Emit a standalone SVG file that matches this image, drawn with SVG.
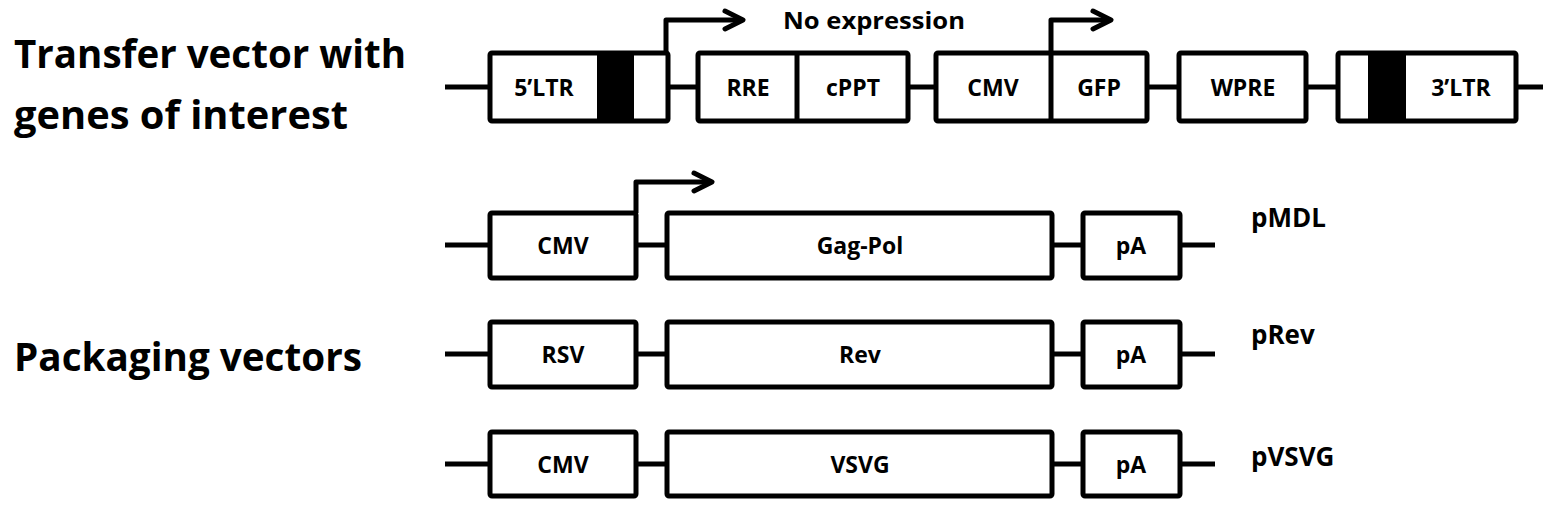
<svg xmlns="http://www.w3.org/2000/svg" width="1543" height="518" viewBox="0 0 1543 518">
<style>
.box{fill:#fff;stroke:#000;stroke-width:5;stroke-linejoin:round}
.ln{fill:none;stroke:#000;stroke-width:5;stroke-linejoin:round;stroke-linecap:butt}
.arr{fill:none;stroke:#000;stroke-width:5;stroke-linejoin:round;stroke-linecap:round}
.blk{fill:#000}
text{font-family:"Open Sans","Liberation Sans",sans-serif;font-weight:bold;fill:#000}
.big{font-size:39px}
.lab{font-size:23px;text-anchor:middle}
.name{font-size:26px}
.note{font-size:24px}
</style>
<g id="titles">
<text class="big" x="14" y="68" textLength="392" lengthAdjust="spacingAndGlyphs">Transfer vector with</text>
<text class="big" x="14" y="129" textLength="334" lengthAdjust="spacingAndGlyphs">genes of interest</text>
<text class="big" x="14" y="371" textLength="348" lengthAdjust="spacingAndGlyphs">Packaging vectors</text>
<text class="note" x="783" y="29" textLength="182" lengthAdjust="spacingAndGlyphs">No expression</text>
<text class="name" x="1251" y="227">pMDL</text>
<text class="name" x="1251" y="344">pRev</text>
<text class="name" x="1251" y="466">pVSVG</text>
</g>
<g id="connectors">
<path class="ln" d="M445 87H490M668 87H698M908 87H936M1147 87H1179M1306 87H1338M1516 87H1543"/>
<path class="ln" d="M445 245H490M636 245H667M1052 245H1083M1180 245H1215"/>
<path class="ln" d="M445 354H490M636 354H667M1052 354H1083M1180 354H1215"/>
<path class="ln" d="M445 464H490M636 464H667M1052 464H1083M1180 464H1215"/>
<path class="ln" d="M666 53V20H743"/><polyline class="arr" points="725,11 743,20 725,29"/>
<path class="ln" d="M1051 53V20H1111"/><polyline class="arr" points="1093,11 1111,20 1093,29"/>
<path class="ln" d="M636 213V182H712"/><polyline class="arr" points="694,173 712,182 694,191"/>
</g>
<g id="ltr5">
<rect class="box" x="490" y="53" width="178" height="68" rx="2"/>
<rect class="blk" x="597" y="53" width="37" height="68"/>
<text class="lab" x="544" y="96">5’LTR</text>
</g>
<g id="rre-cppt">
<rect class="box" x="698" y="53" width="210" height="68" rx="2"/>
<path class="ln" d="M797 53V121"/>
<text class="lab" x="748" y="96">RRE</text>
<text class="lab" x="853" y="96">cPPT</text>
</g>
<g id="cmv-gfp">
<rect class="box" x="936" y="53" width="211" height="68" rx="2"/>
<path class="ln" d="M1051 53V121"/>
<text class="lab" x="993" y="96">CMV</text>
<text class="lab" x="1099" y="96">GFP</text>
</g>
<g id="wpre">
<rect class="box" x="1179" y="53" width="127" height="68" rx="2"/>
<text class="lab" x="1243" y="96">WPRE</text>
</g>
<g id="ltr3">
<rect class="box" x="1338" y="53" width="178" height="68" rx="2"/>
<rect class="blk" x="1368" y="53" width="38" height="68"/>
<text class="lab" x="1461" y="96">3’LTR</text>
</g>
<g id="pmdl-cmv"><rect class="box" x="490" y="213" width="146" height="65" rx="2"/><text class="lab" x="563" y="254">CMV</text></g>
<g id="pmdl-gagpol"><rect class="box" x="667" y="213" width="385" height="65" rx="2"/><text class="lab" x="860" y="254">Gag-Pol</text></g>
<g id="pmdl-pa"><rect class="box" x="1083" y="213" width="97" height="65" rx="2"/><text class="lab" x="1131" y="254">pA</text></g>
<g id="prev-rsv"><rect class="box" x="490" y="322" width="146" height="65" rx="2"/><text class="lab" x="563" y="363">RSV</text></g>
<g id="prev-rev"><rect class="box" x="667" y="322" width="385" height="65" rx="2"/><text class="lab" x="860" y="363">Rev</text></g>
<g id="prev-pa"><rect class="box" x="1083" y="322" width="97" height="65" rx="2"/><text class="lab" x="1131" y="363">pA</text></g>
<g id="pvsvg-cmv"><rect class="box" x="490" y="432" width="146" height="64" rx="2"/><text class="lab" x="563" y="473">CMV</text></g>
<g id="pvsvg-vsvg"><rect class="box" x="667" y="432" width="385" height="64" rx="2"/><text class="lab" x="860" y="473">VSVG</text></g>
<g id="pvsvg-pa"><rect class="box" x="1083" y="432" width="97" height="64" rx="2"/><text class="lab" x="1131" y="473">pA</text></g>
</svg>
